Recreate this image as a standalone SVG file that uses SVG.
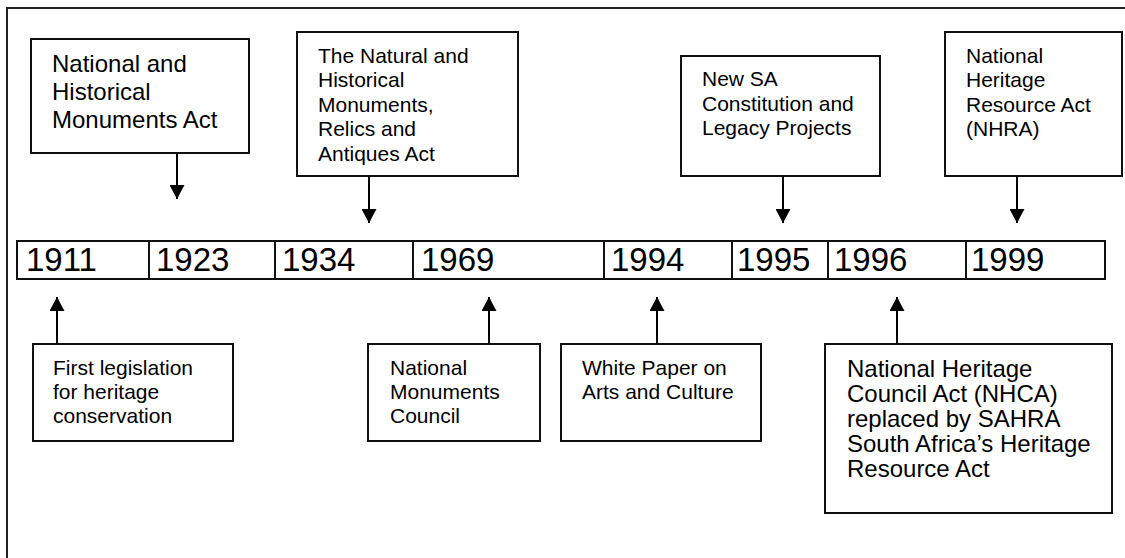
<svg xmlns="http://www.w3.org/2000/svg" width="1125" height="558" viewBox="0 0 1125 558">
<style>
.box{fill:#fff;stroke:#111;stroke-width:2}
.t{font-family:"Liberation Sans",Arial,sans-serif;fill:#000}
.s21{font-size:21px}
.s24{font-size:24px}
.yr{font-family:"Liberation Sans",Arial,sans-serif;font-size:33px;fill:#000}
.con{stroke:#000;stroke-width:2;fill:none;marker-end:url(#ah)}
</style>
<defs>
<marker id="ah" markerUnits="userSpaceOnUse" markerWidth="15" markerHeight="15" refX="14" refY="7.5" orient="auto" viewBox="0 0 15 15">
<path d="M0,0 L14,7.5 L0,15 z" fill="#000"/>
</marker>
</defs>
<rect x="0" y="0" width="1125" height="558" fill="#fff"/>
<path d="M7,558 V8 H1125" fill="none" stroke="#222" stroke-width="2"/>

<g id="timeline">
<rect class="box" x="17" y="241" width="1088" height="38"/>
<path d="M149,241 V279 M275,241 V279 M413,241 V279 M604,241 V279 M732,241 V279 M828,241 V279 M966,241 V279" stroke="#111" stroke-width="2"/>
<text class="yr" x="26" y="271">1911</text>
<text class="yr" x="156" y="271">1923</text>
<text class="yr" x="282" y="271">1934</text>
<text class="yr" x="421" y="271">1969</text>
<text class="yr" x="611" y="271">1994</text>
<text class="yr" x="737" y="271">1995</text>
<text class="yr" x="834" y="271">1996</text>
<text class="yr" x="971" y="271">1999</text>
</g>

<g id="n1923">
<rect class="box" x="31" y="39" width="218" height="114"/>
<text class="t s24" x="52"><tspan x="52" y="72">National and</tspan><tspan x="52" y="100">Historical</tspan><tspan x="52" y="128">Monuments Act</tspan></text>
</g>
<g id="n1934">
<rect class="box" x="297" y="32" width="221" height="144"/>
<text class="t s21"><tspan x="318" y="63">The Natural and</tspan><tspan x="318" y="87">Historical</tspan><tspan x="318" y="112">Monuments,</tspan><tspan x="318" y="136">Relics and</tspan><tspan x="318" y="161">Antiques Act</tspan></text>
</g>
<g id="n1995">
<rect class="box" x="681" y="56" width="199" height="120"/>
<text class="t s21"><tspan x="702" y="86">New SA</tspan><tspan x="702" y="111">Constitution and</tspan><tspan x="702" y="135">Legacy Projects</tspan></text>
</g>
<g id="n1999">
<rect class="box" x="945" y="32" width="177" height="144"/>
<text class="t s21"><tspan x="966" y="63">National</tspan><tspan x="966" y="87">Heritage</tspan><tspan x="966" y="112">Resource Act</tspan><tspan x="966" y="136">(NHRA)</tspan></text>
</g>
<g id="n1911">
<rect class="box" x="33" y="344" width="200" height="97"/>
<text class="t s21"><tspan x="53" y="375">First legislation</tspan><tspan x="53" y="399">for heritage</tspan><tspan x="53" y="423">conservation</tspan></text>
</g>
<g id="n1969">
<rect class="box" x="368" y="344" width="172" height="97"/>
<text class="t s21"><tspan x="390" y="375">National</tspan><tspan x="390" y="399">Monuments</tspan><tspan x="390" y="423">Council</tspan></text>
</g>
<g id="n1994">
<rect class="box" x="561" y="344" width="200" height="97"/>
<text class="t s21"><tspan x="582" y="375">White Paper on</tspan><tspan x="582" y="399">Arts and Culture</tspan></text>
</g>
<g id="n1996">
<rect class="box" x="825" y="344" width="287" height="169"/>
<text class="t s24"><tspan x="847" y="377">National Heritage</tspan><tspan x="847" y="402">Council Act (NHCA)</tspan><tspan x="847" y="427">replaced by SAHRA</tspan><tspan x="847" y="452">South Africa’s Heritage</tspan><tspan x="847" y="477">Resource Act</tspan></text>
</g>

<g id="connectors">
<line class="con" x1="177" y1="153" x2="177" y2="199"/>
<line class="con" x1="369" y1="176" x2="369" y2="223"/>
<line class="con" x1="783" y1="176" x2="783" y2="223"/>
<line class="con" x1="1017" y1="176" x2="1017" y2="223"/>
<line class="con" x1="57" y1="344" x2="57" y2="297"/>
<line class="con" x1="489" y1="344" x2="489" y2="297"/>
<line class="con" x1="657" y1="344" x2="657" y2="297"/>
<line class="con" x1="897" y1="344" x2="897" y2="297"/>
</g>
</svg>
